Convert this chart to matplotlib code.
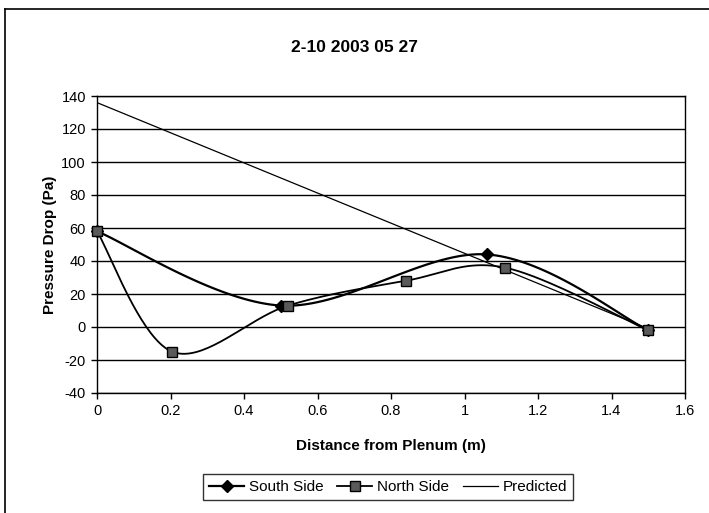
import numpy as np
import matplotlib
matplotlib.use("Agg")
import matplotlib.pyplot as plt
from matplotlib.lines import Line2D

plt.rcParams['font.family'] = ['Liberation Sans', 'DejaVu Sans']
plt.rcParams['axes.unicode_minus'] = False

title = "2-10 2003 05 27"
south_x = [0.0, 0.50, 1.06, 1.50]
south_y = [58, 13, 44, -2]
north_x = [0.0, 0.205, 0.52, 0.84, 1.11, 1.50]
north_y = [58, -15, 13, 28, 36, -2]
pred_x = [0.0, 1.50]
pred_y = [136, -1]
x_ticks = [0, 0.2, 0.4, 0.6, 0.8, 1, 1.2, 1.4, 1.6]
x_tick_labels = ["0", "0.2", "0.4", "0.6", "0.8", "1", "1.2", "1.4", "1.6"]
y_ticks = list(range(-40, 141, 20))


def smooth(xs, ys, n=40):
    """Catmull-Rom style Bezier smoothing through every point."""
    p = np.column_stack([xs, ys]).astype(float)
    ext = np.vstack([p[0], p, p[-1]])
    out = [p[0]]
    t = np.linspace(0, 1, n)[1:, None]
    for i in range(len(p) - 1):
        p0, p1, p2, p3 = ext[i], ext[i + 1], ext[i + 2], ext[i + 3]
        c1 = p1 + (p2 - p0) / 6.0
        c2 = p2 - (p3 - p1) / 6.0
        seg = ((1 - t) ** 3) * p1 + 3 * ((1 - t) ** 2) * t * c1 + 3 * (1 - t) * t ** 2 * c2 + t ** 3 * p2
        out.extend(seg)
    out = np.array(out)
    return out[:, 0], out[:, 1]


W, H = 709, 513
fig = plt.figure(figsize=(W / 100, H / 100), dpi=100)
fig.patch.set_facecolor('white')

# outer chart frame (left and top edges)
fig.add_artist(Line2D([5 / W, 5 / W], [0, 1 - 9 / H], color='black', lw=1.2, transform=fig.transFigure))
fig.add_artist(Line2D([5 / W, 1], [1 - 9 / H, 1 - 9 / H], color='black', lw=1.2, transform=fig.transFigure))

left, right, top, bottom = 97, 685, 96, 393
ax = fig.add_axes([left / W, 1 - bottom / H, (right - left) / W, (bottom - top) / H])

ax.set_xlim(0, 1.6)
ax.set_ylim(-40, 140)
ax.set_xticks(x_ticks)
ax.set_xticklabels(x_tick_labels)
ax.set_yticks(y_ticks)
ax.yaxis.grid(True, color='black', lw=1.0)
ax.set_axisbelow(True)
for s in ax.spines.values():
    s.set_linewidth(1.0)
    s.set_color('black')
ax.tick_params(axis='both', direction='out', length=4, width=1, labelsize=10.5, colors='black', pad=4)

sx, sy = smooth(south_x, south_y)
nx, ny = smooth(north_x, north_y)

ax.plot(pred_x, pred_y, color='black', lw=0.9, zorder=3)
ax.plot(sx, sy, color='black', lw=1.6, zorder=4)
ax.plot(nx, ny, color='black', lw=1.3, zorder=4)
ax.plot(south_x, south_y, linestyle='none', marker='D', ms=6.5, mfc='black', mec='black', zorder=5, clip_on=False)
ax.plot(north_x, north_y, linestyle='none', marker='s', ms=7.5, mfc='#5a5a5a', mec='black', mew=1.0, zorder=6, clip_on=False)

fig.text(354 / W, 1 - 48 / H, title, fontsize=12.5, fontweight='bold', ha='center', va='center')
ax.set_xlabel("Distance from Plenum (m)", fontsize=11, fontweight='bold', labelpad=15)
ax.set_ylabel("Pressure Drop (Pa)", fontsize=11, fontweight='bold', labelpad=3)

handles = [
    Line2D([], [], color='black', lw=1.6, marker='D', ms=6.5, mfc='black', mec='black'),
    Line2D([], [], color='black', lw=1.3, marker='s', ms=7.5, mfc='#5a5a5a', mec='black'),
    Line2D([], [], color='black', lw=0.9),
]
leg = fig.legend(handles, ["South Side", "North Side", "Predicted"], loc='center',
                 bbox_to_anchor=(388 / W, 1 - 487 / H), ncol=3, frameon=True, fancybox=False,
                 edgecolor='black', fontsize=11, handlelength=2.3, handletextpad=0.3,
                 columnspacing=0.9, borderpad=0.4)
leg.get_frame().set_linewidth(1.0)

fig.savefig("out.png", dpi=100, facecolor='white')
